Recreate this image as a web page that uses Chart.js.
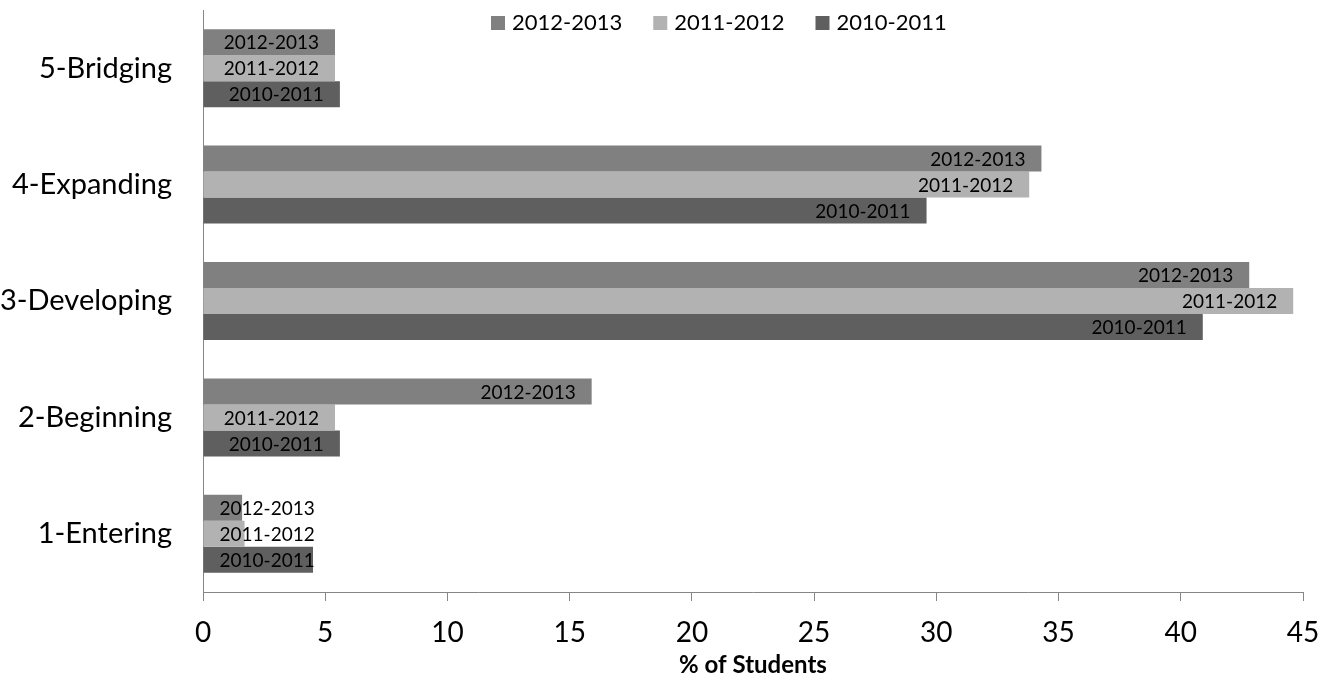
<!DOCTYPE html>
<html>
<head>
<meta charset="utf-8">
<script src="https://cdn.jsdelivr.net/npm/chart.js@4/dist/chart.umd.min.js"></script>
<style>
  html, body { margin: 0; padding: 0; background: #fff; }
  canvas { display: block; }
</style>
</head>
<body>
<canvas id="c" width="1333" height="677"></canvas>
<script>
// ELP proficiency levels, top to bottom
const levels = ['5-Bridging', '4-Expanding', '3-Developing', '2-Beginning', '1-Entering'];

// % of students at each level, per school year
const y2012_2013 = [5.4, 34.3, 42.8, 15.9, 1.6];
const y2011_2012 = [5.4, 33.8, 44.6, 5.4, 1.7];
const y2010_2011 = [5.6, 29.6, 40.9, 5.6, 4.5];

const seriesNames = ['2012-2013', '2011-2012', '2010-2011'];
const xTicks = [0, 5, 10, 15, 20, 25, 30, 35, 40, 45];

const FONT = 'Lato, "Open Sans", sans-serif';
const AXIS_GREY = '#868686';
const colors = ['#808080', '#b2b2b2', '#5f5f5f'];

// Writes the series name inside the end of every bar
const barNamePlugin = {
  id: 'barNames',
  afterDatasetsDraw(chart) {
    const ctx = chart.ctx;
    ctx.save();
    ctx.font = '19px ' + FONT;
    ctx.fillStyle = '#000';
    ctx.textBaseline = 'middle';
    ctx.textAlign = 'left';
    chart.data.datasets.forEach((ds, i) => {
      const meta = chart.getDatasetMeta(i);
      meta.data.forEach(bar => {
        const w = ctx.measureText(ds.label).width;
        const tx = Math.max(bar.x - 16 - w, bar.base + 16);
        ctx.fillText(ds.label, tx, bar.y + 1);
      });
    });
    ctx.restore();
  }
};

// Legend row drawn over the top of the plot
const legendRowPlugin = {
  id: 'legendRow',
  afterDraw(chart) {
    const ctx = chart.ctx;
    ctx.save();
    ctx.font = '22px ' + FONT;
    ctx.textBaseline = 'middle';
    ctx.textAlign = 'left';
    let x = 491;
    const yMid = 23;
    chart.data.datasets.forEach(ds => {
      ctx.fillStyle = ds.backgroundColor;
      ctx.fillRect(x, yMid - 7, 14, 14);
      ctx.fillStyle = '#000';
      ctx.fillText(ds.label, x + 21, yMid);
      x += 21 + ctx.measureText(ds.label).width + 31;
    });
    ctx.restore();
  }
};

// Keep tick-label overhang from shrinking the plot area
function noOverhang(scale) {
  scale.paddingTop = 0;
  scale.paddingBottom = 0;
  scale.paddingLeft = 0;
  scale.paddingRight = 0;
}

new Chart(document.getElementById('c'), {
  type: 'bar',
  data: {
    labels: levels,
    datasets: [
      { label: seriesNames[0], data: y2012_2013, backgroundColor: colors[0] },
      { label: seriesNames[1], data: y2011_2012, backgroundColor: colors[1] },
      { label: seriesNames[2], data: y2010_2011, backgroundColor: colors[2] }
    ]
  },
  options: {
    indexAxis: 'y',
    responsive: false,
    animation: false,
    devicePixelRatio: 1,
    layout: { padding: { left: 0, top: 10, right: 30, bottom: 0 } },
    datasets: {
      bar: { categoryPercentage: 0.67, barPercentage: 1.0, borderWidth: 0 }
    },
    plugins: {
      legend: { display: false },
      tooltip: { enabled: false }
    },
    scales: {
      x: {
        type: 'linear',
        min: xTicks[0],
        max: xTicks[xTicks.length - 1],
        afterBuildTicks(scale) { scale.ticks = xTicks.map(v => ({ value: v })); },
        afterFit(scale) { scale.height = 85; noOverhang(scale); },
        grid: { drawOnChartArea: false, drawTicks: true, tickLength: 9, color: AXIS_GREY, lineWidth: 1 },
        border: { display: true, color: AXIS_GREY, width: 1 },
        ticks: { font: { family: FONT, size: 28 }, color: '#000', padding: 15, maxRotation: 0 },
        title: {
          display: true,
          text: '% of Students',
          font: { family: FONT, size: 24, weight: 'bold', lineHeight: 1.0 },
          color: '#000',
          padding: { top: 0, bottom: 0 }
        }
      },
      y: {
        afterFit(scale) { scale.width = 203; noOverhang(scale); },
        grid: { display: false, drawTicks: false },
        border: { display: true, color: AXIS_GREY, width: 1 },
        ticks: { font: { family: FONT, size: 29 }, color: '#000', padding: 31 }
      }
    }
  },
  plugins: [barNamePlugin, legendRowPlugin]
});
</script>
</body>
</html>
